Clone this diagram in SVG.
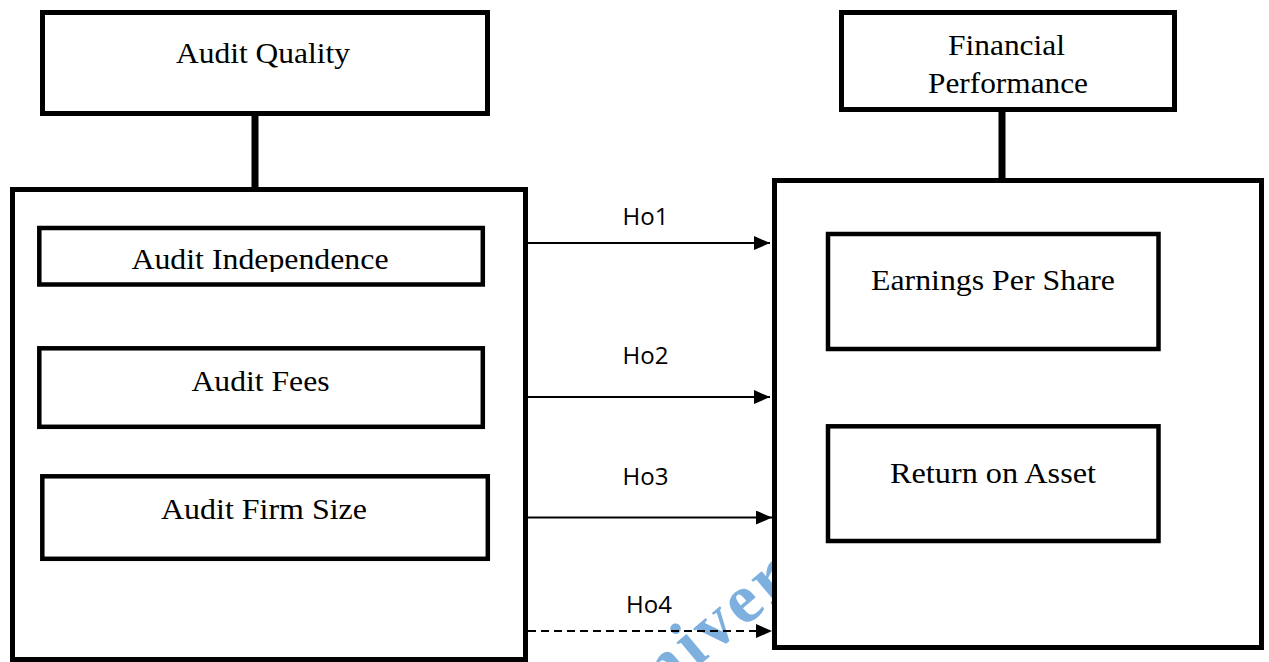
<svg xmlns="http://www.w3.org/2000/svg" width="1269" height="662" viewBox="0 0 1269 662">
<style>
.box{fill:#fff;stroke:#000;stroke-width:5}
.inner{fill:#fff;stroke:#000;stroke-width:4.5}
.t{font-family:"Liberation Serif","Times New Roman",serif;font-size:30px;fill:#000;text-anchor:middle}
.h{font-family:"Open Sans","Liberation Sans",sans-serif;font-size:24px;fill:#000;text-anchor:middle}
.link{stroke:#000;stroke-width:1.8;fill:none}
.stem{stroke:#000;fill:none}
.wm{font-family:"Liberation Serif",serif;font-weight:bold;font-size:70px;letter-spacing:4px;fill:#7db0de}
</style>
<defs>
<marker id="ah" markerUnits="userSpaceOnUse" markerWidth="16" markerHeight="14" refX="16" refY="7" orient="auto">
<path d="M0,0 L16,7 L0,14 z" fill="#000"/>
</marker>
<clipPath id="clipAI"><rect x="41" y="230" width="440" height="42"/></clipPath>
</defs>
<rect width="1269" height="662" fill="#fff"/>
<text class="wm" x="621" y="731" transform="rotate(-40 621 731)">University</text>

<g id="connectors">
<line class="stem" x1="255" y1="116" x2="255" y2="188" stroke-width="7"/>
<line class="stem" x1="1002" y1="111" x2="1002" y2="179" stroke-width="7"/>
<line class="link" x1="528" y1="243" x2="770" y2="243" marker-end="url(#ah)"/>
<text class="h" x="645.5" y="225">Ho1</text>
<line class="link" x1="528" y1="397" x2="770" y2="397" marker-end="url(#ah)"/>
<text class="h" x="645.5" y="364">Ho2</text>
<line class="link" x1="528" y1="517.5" x2="772" y2="517.5" marker-end="url(#ah)"/>
<text class="h" x="645.5" y="485">Ho3</text>
<line class="link" x1="528" y1="631" x2="772" y2="631" stroke-width="2.5" stroke-dasharray="8 5" marker-end="url(#ah)"/>
<text class="h" x="649" y="613">Ho4</text>
</g>

<g id="audit-quality">
<rect class="box" x="42.5" y="12.5" width="445" height="101"/>
<text class="t" x="263" y="63" textLength="174" lengthAdjust="spacingAndGlyphs">Audit Quality</text>
</g>

<g id="financial-performance">
<rect class="box" x="841.5" y="12.5" width="333" height="97"/>
<text class="t" x="1006.5" y="55" textLength="117" lengthAdjust="spacingAndGlyphs">Financial</text>
<text class="t" x="1008" y="93" textLength="160" lengthAdjust="spacingAndGlyphs">Performance</text>
</g>

<g id="audit-quality-group">
<rect class="box" x="12.5" y="189.5" width="513" height="470"/>
</g>

<g id="audit-independence">
<rect class="inner" x="39.3" y="228" width="443.5" height="56.5"/>
<text class="t" x="260" y="269" textLength="257" lengthAdjust="spacingAndGlyphs" clip-path="url(#clipAI)">Audit Independence</text>
</g>

<g id="audit-fees">
<rect class="inner" x="39.3" y="348.3" width="443.5" height="78.5"/>
<text class="t" x="260.5" y="391" textLength="138" lengthAdjust="spacingAndGlyphs">Audit Fees</text>
</g>

<g id="audit-firm-size">
<rect class="inner" x="42.3" y="476.3" width="445.5" height="82.5"/>
<text class="t" x="264" y="519" textLength="206" lengthAdjust="spacingAndGlyphs">Audit Firm Size</text>
</g>

<g id="financial-performance-group">
<rect class="box" x="774.5" y="180.5" width="487" height="467"/>
</g>

<g id="earnings-per-share">
<rect class="inner" x="828" y="234" width="330.5" height="115"/>
<text class="t" x="993" y="290" textLength="244" lengthAdjust="spacingAndGlyphs">Earnings Per Share</text>
</g>

<g id="return-on-asset">
<rect class="inner" x="828" y="426.3" width="330.5" height="114.7"/>
<text class="t" x="993" y="482.7" textLength="206" lengthAdjust="spacingAndGlyphs">Return on Asset</text>
</g>
</svg>
